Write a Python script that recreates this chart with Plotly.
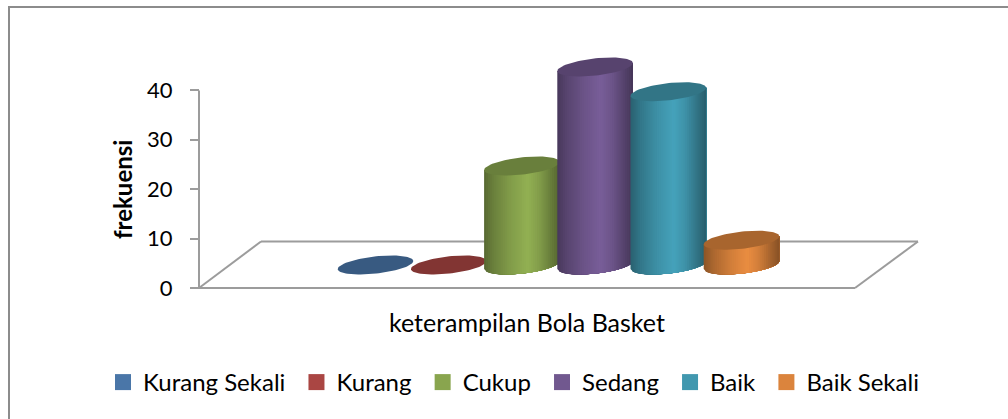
import numpy as np
import plotly.graph_objects as go

# ---- data ----
categories = ["Kurang Sekali", "Kurang", "Cukup", "Sedang", "Baik", "Baik Sekali"]
values = [0, 0, 20, 40, 35, 5]
colors = ["#4A76A8", "#AA4643", "#89A54E", "#71588F", "#4198AF", "#DB843D"]
y_ticks = [0, 10, 20, 30, 40]
y_title = "frekuensi"
x_title = "keterampilan Bola Basket"

# ---- page geometry ----
W, H = 1008, 419
PX_PER_UNIT = 4.95          # vertical pixels per frequency unit
ZERO_PX = 288               # page y of the value 0
SLOT_PX = 73.2              # page distance between neighbouring cylinders
FIRST_PX = 375.5            # page x of first cylinder
FONT = "Lato"
GRAY = "#9C9C9C"

y_range = [(ZERO_PX - H) / PX_PER_UNIT, ZERO_PX / PX_PER_UNIT]
x_range = [-FIRST_PX / SLOT_PX, (W - FIRST_PX) / SLOT_PX]

# cylinder shape, in axis units
HALF = 37.8 / SLOT_PX
DEPTH = 23 / PX_PER_UNIT    # floor depth at which cylinders stand
B = 8.6 / PX_PER_UNIT       # ellipse minor half height
C = 4.0 / PX_PER_UNIT       # ellipse shear (right side higher)
N_STRIPS = 40

shade_u = [-1, -0.75, -0.3, 0.15, 0.45, 0.8, 1]
shade_f = [0.64, 0.78, 0.95, 1.07, 0.96, 0.74, 0.62]
TOP_FACTOR = 0.77


def tint(hex_color, f):
    rgb = [int(hex_color[i:i + 2], 16) for i in (1, 3, 5)]
    return "rgb(%d,%d,%d)" % tuple(min(255, int(c * f)) for c in rgb)


fig = go.Figure()

for i, (name, val, col) in enumerate(zip(categories, values, colors)):
    base = DEPTH
    top = val + DEPTH
    edges = np.linspace(-1, 1, N_STRIPS + 1)
    if val > 0:
        # painter's order: each strip runs to the right edge, the next covers it
        for u1, u2 in zip(edges[:-1], edges[1:]):
            um = (u1 + u2) / 2
            f = float(np.interp(um, shade_u, shade_f))
            c_ = tint(col, f)
            us = np.linspace(u1, 1, 30)
            front = base + C * us - B * np.sqrt(np.clip(1 - us ** 2, 0, 1))
            upper = top + C * us
            xs = i + HALF * us
            fig.add_trace(go.Scatter(
                x=np.r_[xs, xs[::-1]], y=np.r_[front, upper[::-1]],
                mode="lines", fill="toself", fillcolor=c_,
                line=dict(width=0), hoverinfo="skip", showlegend=False))
    t = np.linspace(0, 2 * np.pi, 90)
    fig.add_trace(go.Scatter(
        x=i + HALF * np.cos(t), y=top + C * np.cos(t) + B * np.sin(t),
        mode="lines", fill="toself", fillcolor=tint(col, TOP_FACTOR),
        line=dict(width=0), hoverinfo="skip", showlegend=False))
    # legend key (trailing no-break space widens the gap between entries)
    fig.add_trace(go.Scatter(
        x=[None], y=[None], mode="markers", name=name + "\u00a0",
        marker=dict(symbol="square", size=16, color=col, line=dict(width=0))))


def px(x):
    return x / W


def py(y):
    return 1 - y / H


floor = [(199, 288), (261, 241.5), (918, 241.5), (855, 288), (199, 288)]
shapes = []
for (x0, y0), (x1, y1) in zip(floor[:-1], floor[1:]):
    shapes.append(dict(type="line", xref="paper", yref="paper", layer="below",
                       x0=px(x0), y0=py(y0), x1=px(x1), y1=py(y1),
                       line=dict(color=GRAY, width=2)))
# y axis line
shapes.append(dict(type="line", xref="paper", yref="paper", layer="below",
                   x0=px(199), x1=px(199), y0=py(90.5), y1=py(288),
                   line=dict(color=GRAY, width=2)))
# chart frame
for x0, y0, x1, y1 in [(9, 7, 1008, 7), (9, 6, 9, 419)]:
    shapes.append(dict(type="line", xref="paper", yref="paper", layer="below",
                       x0=px(x0), y0=py(y0), x1=px(x1), y1=py(y1),
                       line=dict(color="#8C8C8C", width=2)))

annotations = [
    dict(text=y_title, xref="paper", yref="paper", x=px(122), y=py(190),
         xanchor="center", yanchor="middle",
         showarrow=False, textangle=-90,
         font=dict(family=FONT, size=24, color="#000", weight="bold")),
    dict(text=x_title, xref="paper", yref="paper", x=px(527), y=py(322),
         xanchor="center", yanchor="middle",
         showarrow=False, font=dict(family=FONT, size=25, color="#000")),
]

fig.update_layout(
    width=W, height=H, autosize=False,
    margin=dict(l=0, r=0, t=0, b=0),
    paper_bgcolor="white", plot_bgcolor="rgba(0,0,0,0)",
    font=dict(family=FONT, color="#000"),
    xaxis=dict(range=x_range, visible=False, fixedrange=True),
    yaxis=dict(range=y_range, anchor="free", position=199 / W,
               tickmode="array", tickvals=y_ticks, ticks="outside", ticklen=9,
               tickwidth=2, tickcolor=GRAY, showline=False, showgrid=False,
               zeroline=False, ticklabelstandoff=13, fixedrange=True,
               tickfont=dict(family=FONT, size=22, color="#000")),
    legend=dict(orientation="h", x=px(103), xanchor="left", y=py(382.5), yanchor="middle",
                font=dict(family=FONT, size=24, color="#000"),
                bgcolor="rgba(0,0,0,0)", itemclick=False, itemdoubleclick=False),
    shapes=shapes, annotations=annotations, showlegend=True,
)

fig.write_html("out.html", config={"displayModeBar": False},
               post_script="document.body.style.margin='0';document.body.style.overflow='hidden';")
